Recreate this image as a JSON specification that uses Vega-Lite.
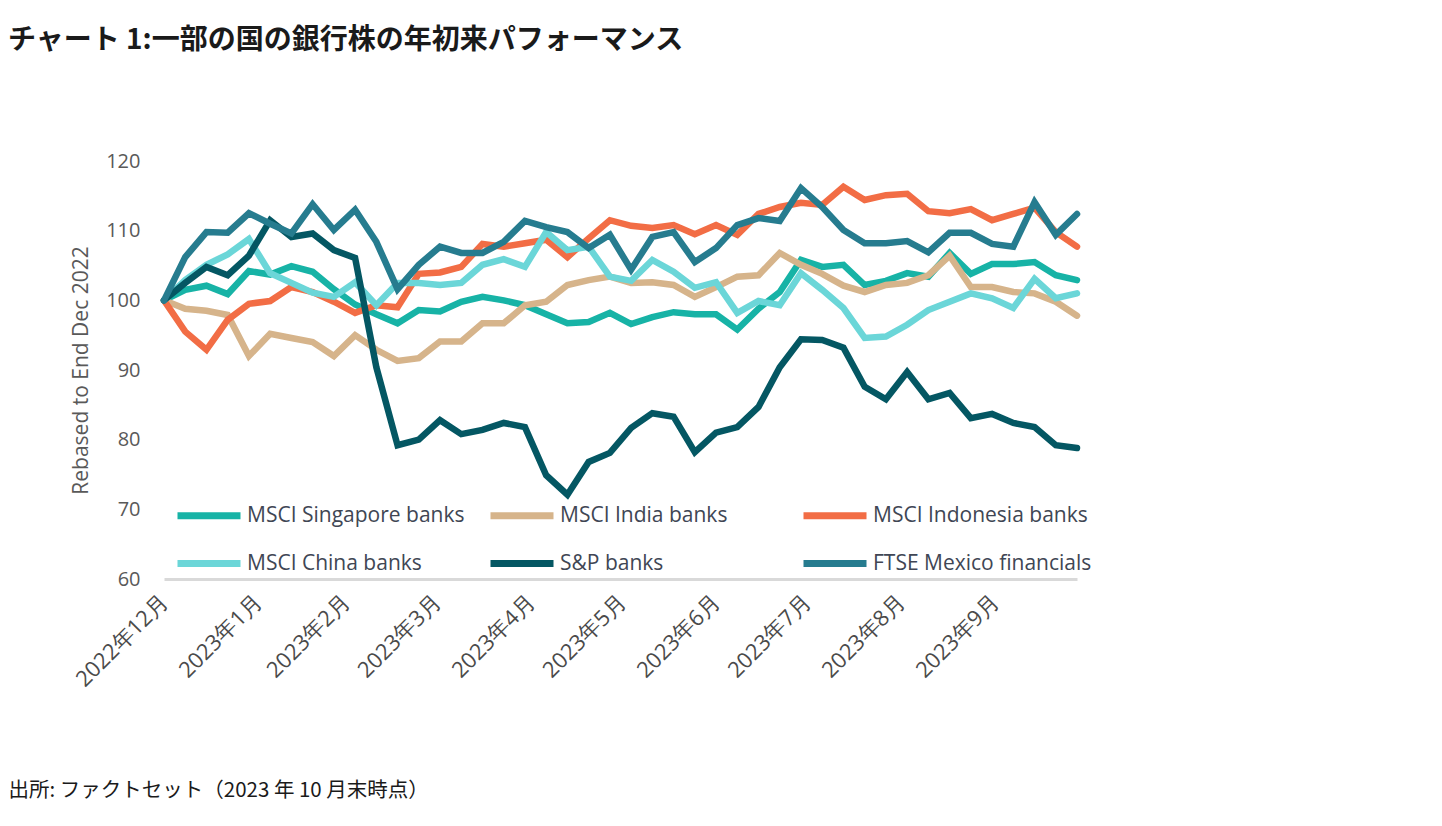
{
  "$schema": "https://vega.github.io/schema/vega-lite/v6.json",
  "autosize": "none",
  "width": 913,
  "height": 418,
  "padding": {"left": 164, "top": 161, "right": 365, "bottom": 247},
  "background": "white",
  "config": {
    "view": {"stroke": null},
    "font": "Open Sans",
    "legend": {"padding": 0}
  },
  "title": {
    "text": "チャート 1:一部の国の銀行株の年初来パフォーマンス",
    "anchor": "start",
    "frame": "group",
    "dx": -156,
    "offset": 96,
    "font": "Noto Sans CJK JP",
    "fontSize": 28,
    "fontWeight": "bold",
    "color": "#1a1a1a"
  },
  "data": {
    "values": [
      {"date": "2022-12-30", "series": "MSCI Singapore banks", "value": 100},
      {"date": "2023-01-06", "series": "MSCI Singapore banks", "value": 101.5},
      {"date": "2023-01-13", "series": "MSCI Singapore banks", "value": 102.1},
      {"date": "2023-01-20", "series": "MSCI Singapore banks", "value": 100.9},
      {"date": "2023-01-27", "series": "MSCI Singapore banks", "value": 104.2},
      {"date": "2023-02-03", "series": "MSCI Singapore banks", "value": 103.7},
      {"date": "2023-02-10", "series": "MSCI Singapore banks", "value": 104.9},
      {"date": "2023-02-17", "series": "MSCI Singapore banks", "value": 104.1},
      {"date": "2023-02-24", "series": "MSCI Singapore banks", "value": 101.6},
      {"date": "2023-03-03", "series": "MSCI Singapore banks", "value": 99.4},
      {"date": "2023-03-10", "series": "MSCI Singapore banks", "value": 98.0},
      {"date": "2023-03-17", "series": "MSCI Singapore banks", "value": 96.7},
      {"date": "2023-03-24", "series": "MSCI Singapore banks", "value": 98.6},
      {"date": "2023-03-31", "series": "MSCI Singapore banks", "value": 98.4},
      {"date": "2023-04-07", "series": "MSCI Singapore banks", "value": 99.8},
      {"date": "2023-04-14", "series": "MSCI Singapore banks", "value": 100.5},
      {"date": "2023-04-21", "series": "MSCI Singapore banks", "value": 100.0},
      {"date": "2023-04-28", "series": "MSCI Singapore banks", "value": 99.3},
      {"date": "2023-05-05", "series": "MSCI Singapore banks", "value": 98.0},
      {"date": "2023-05-12", "series": "MSCI Singapore banks", "value": 96.7},
      {"date": "2023-05-19", "series": "MSCI Singapore banks", "value": 96.9},
      {"date": "2023-05-26", "series": "MSCI Singapore banks", "value": 98.2},
      {"date": "2023-06-02", "series": "MSCI Singapore banks", "value": 96.6},
      {"date": "2023-06-09", "series": "MSCI Singapore banks", "value": 97.6},
      {"date": "2023-06-16", "series": "MSCI Singapore banks", "value": 98.3},
      {"date": "2023-06-23", "series": "MSCI Singapore banks", "value": 98.0},
      {"date": "2023-06-30", "series": "MSCI Singapore banks", "value": 98.0},
      {"date": "2023-07-07", "series": "MSCI Singapore banks", "value": 95.8},
      {"date": "2023-07-14", "series": "MSCI Singapore banks", "value": 98.8},
      {"date": "2023-07-21", "series": "MSCI Singapore banks", "value": 101.2},
      {"date": "2023-07-28", "series": "MSCI Singapore banks", "value": 105.8},
      {"date": "2023-08-04", "series": "MSCI Singapore banks", "value": 104.8},
      {"date": "2023-08-11", "series": "MSCI Singapore banks", "value": 105.1},
      {"date": "2023-08-18", "series": "MSCI Singapore banks", "value": 102.2},
      {"date": "2023-08-25", "series": "MSCI Singapore banks", "value": 102.8},
      {"date": "2023-09-01", "series": "MSCI Singapore banks", "value": 103.9},
      {"date": "2023-09-08", "series": "MSCI Singapore banks", "value": 103.4},
      {"date": "2023-09-15", "series": "MSCI Singapore banks", "value": 106.8},
      {"date": "2023-09-22", "series": "MSCI Singapore banks", "value": 103.8},
      {"date": "2023-09-29", "series": "MSCI Singapore banks", "value": 105.2},
      {"date": "2023-10-06", "series": "MSCI Singapore banks", "value": 105.2},
      {"date": "2023-10-13", "series": "MSCI Singapore banks", "value": 105.5},
      {"date": "2023-10-20", "series": "MSCI Singapore banks", "value": 103.6},
      {"date": "2023-10-27", "series": "MSCI Singapore banks", "value": 102.9},

      {"date": "2022-12-30", "series": "MSCI India banks", "value": 100},
      {"date": "2023-01-06", "series": "MSCI India banks", "value": 98.8},
      {"date": "2023-01-13", "series": "MSCI India banks", "value": 98.5},
      {"date": "2023-01-20", "series": "MSCI India banks", "value": 97.9},
      {"date": "2023-01-27", "series": "MSCI India banks", "value": 92.0},
      {"date": "2023-02-03", "series": "MSCI India banks", "value": 95.2},
      {"date": "2023-02-10", "series": "MSCI India banks", "value": 94.6},
      {"date": "2023-02-17", "series": "MSCI India banks", "value": 94.0},
      {"date": "2023-02-24", "series": "MSCI India banks", "value": 92.0},
      {"date": "2023-03-03", "series": "MSCI India banks", "value": 95.0},
      {"date": "2023-03-10", "series": "MSCI India banks", "value": 92.9},
      {"date": "2023-03-17", "series": "MSCI India banks", "value": 91.3},
      {"date": "2023-03-24", "series": "MSCI India banks", "value": 91.7},
      {"date": "2023-03-31", "series": "MSCI India banks", "value": 94.1},
      {"date": "2023-04-07", "series": "MSCI India banks", "value": 94.1},
      {"date": "2023-04-14", "series": "MSCI India banks", "value": 96.7},
      {"date": "2023-04-21", "series": "MSCI India banks", "value": 96.7},
      {"date": "2023-04-28", "series": "MSCI India banks", "value": 99.3},
      {"date": "2023-05-05", "series": "MSCI India banks", "value": 99.8},
      {"date": "2023-05-12", "series": "MSCI India banks", "value": 102.2},
      {"date": "2023-05-19", "series": "MSCI India banks", "value": 102.9},
      {"date": "2023-05-26", "series": "MSCI India banks", "value": 103.4},
      {"date": "2023-06-02", "series": "MSCI India banks", "value": 102.5},
      {"date": "2023-06-09", "series": "MSCI India banks", "value": 102.6},
      {"date": "2023-06-16", "series": "MSCI India banks", "value": 102.2},
      {"date": "2023-06-23", "series": "MSCI India banks", "value": 100.5},
      {"date": "2023-06-30", "series": "MSCI India banks", "value": 101.9},
      {"date": "2023-07-07", "series": "MSCI India banks", "value": 103.4},
      {"date": "2023-07-14", "series": "MSCI India banks", "value": 103.6},
      {"date": "2023-07-21", "series": "MSCI India banks", "value": 106.8},
      {"date": "2023-07-28", "series": "MSCI India banks", "value": 105.1},
      {"date": "2023-08-04", "series": "MSCI India banks", "value": 103.8},
      {"date": "2023-08-11", "series": "MSCI India banks", "value": 102.1},
      {"date": "2023-08-18", "series": "MSCI India banks", "value": 101.2},
      {"date": "2023-08-25", "series": "MSCI India banks", "value": 102.2},
      {"date": "2023-09-01", "series": "MSCI India banks", "value": 102.5},
      {"date": "2023-09-08", "series": "MSCI India banks", "value": 103.6},
      {"date": "2023-09-15", "series": "MSCI India banks", "value": 106.4},
      {"date": "2023-09-22", "series": "MSCI India banks", "value": 101.9},
      {"date": "2023-09-29", "series": "MSCI India banks", "value": 101.9},
      {"date": "2023-10-06", "series": "MSCI India banks", "value": 101.2},
      {"date": "2023-10-13", "series": "MSCI India banks", "value": 101.0},
      {"date": "2023-10-20", "series": "MSCI India banks", "value": 99.8},
      {"date": "2023-10-27", "series": "MSCI India banks", "value": 97.8},

      {"date": "2022-12-30", "series": "MSCI Indonesia banks", "value": 100},
      {"date": "2023-01-06", "series": "MSCI Indonesia banks", "value": 95.5},
      {"date": "2023-01-13", "series": "MSCI Indonesia banks", "value": 92.9},
      {"date": "2023-01-20", "series": "MSCI Indonesia banks", "value": 97.2},
      {"date": "2023-01-27", "series": "MSCI Indonesia banks", "value": 99.5},
      {"date": "2023-02-03", "series": "MSCI Indonesia banks", "value": 99.9},
      {"date": "2023-02-10", "series": "MSCI Indonesia banks", "value": 101.9},
      {"date": "2023-02-17", "series": "MSCI Indonesia banks", "value": 101.2},
      {"date": "2023-02-24", "series": "MSCI Indonesia banks", "value": 99.8},
      {"date": "2023-03-03", "series": "MSCI Indonesia banks", "value": 98.2},
      {"date": "2023-03-10", "series": "MSCI Indonesia banks", "value": 99.3},
      {"date": "2023-03-17", "series": "MSCI Indonesia banks", "value": 99.0},
      {"date": "2023-03-24", "series": "MSCI Indonesia banks", "value": 103.8},
      {"date": "2023-03-31", "series": "MSCI Indonesia banks", "value": 104.0},
      {"date": "2023-04-07", "series": "MSCI Indonesia banks", "value": 104.8},
      {"date": "2023-04-14", "series": "MSCI Indonesia banks", "value": 108.1},
      {"date": "2023-04-21", "series": "MSCI Indonesia banks", "value": 107.7},
      {"date": "2023-04-28", "series": "MSCI Indonesia banks", "value": 108.2},
      {"date": "2023-05-05", "series": "MSCI Indonesia banks", "value": 108.7},
      {"date": "2023-05-12", "series": "MSCI Indonesia banks", "value": 106.2},
      {"date": "2023-05-19", "series": "MSCI Indonesia banks", "value": 108.9},
      {"date": "2023-05-26", "series": "MSCI Indonesia banks", "value": 111.5},
      {"date": "2023-06-02", "series": "MSCI Indonesia banks", "value": 110.7},
      {"date": "2023-06-09", "series": "MSCI Indonesia banks", "value": 110.4},
      {"date": "2023-06-16", "series": "MSCI Indonesia banks", "value": 110.8},
      {"date": "2023-06-23", "series": "MSCI Indonesia banks", "value": 109.5},
      {"date": "2023-06-30", "series": "MSCI Indonesia banks", "value": 110.8},
      {"date": "2023-07-07", "series": "MSCI Indonesia banks", "value": 109.4},
      {"date": "2023-07-14", "series": "MSCI Indonesia banks", "value": 112.4},
      {"date": "2023-07-21", "series": "MSCI Indonesia banks", "value": 113.4},
      {"date": "2023-07-28", "series": "MSCI Indonesia banks", "value": 114.0},
      {"date": "2023-08-04", "series": "MSCI Indonesia banks", "value": 113.7},
      {"date": "2023-08-11", "series": "MSCI Indonesia banks", "value": 116.3},
      {"date": "2023-08-18", "series": "MSCI Indonesia banks", "value": 114.4},
      {"date": "2023-08-25", "series": "MSCI Indonesia banks", "value": 115.1},
      {"date": "2023-09-01", "series": "MSCI Indonesia banks", "value": 115.3},
      {"date": "2023-09-08", "series": "MSCI Indonesia banks", "value": 112.8},
      {"date": "2023-09-15", "series": "MSCI Indonesia banks", "value": 112.5},
      {"date": "2023-09-22", "series": "MSCI Indonesia banks", "value": 113.1},
      {"date": "2023-09-29", "series": "MSCI Indonesia banks", "value": 111.5},
      {"date": "2023-10-06", "series": "MSCI Indonesia banks", "value": 112.4},
      {"date": "2023-10-13", "series": "MSCI Indonesia banks", "value": 113.3},
      {"date": "2023-10-20", "series": "MSCI Indonesia banks", "value": 109.8},
      {"date": "2023-10-27", "series": "MSCI Indonesia banks", "value": 107.7},

      {"date": "2022-12-30", "series": "MSCI China banks", "value": 100},
      {"date": "2023-01-06", "series": "MSCI China banks", "value": 102.9},
      {"date": "2023-01-13", "series": "MSCI China banks", "value": 105.1},
      {"date": "2023-01-20", "series": "MSCI China banks", "value": 106.6},
      {"date": "2023-01-27", "series": "MSCI China banks", "value": 108.8},
      {"date": "2023-02-03", "series": "MSCI China banks", "value": 103.9},
      {"date": "2023-02-10", "series": "MSCI China banks", "value": 102.5},
      {"date": "2023-02-17", "series": "MSCI China banks", "value": 101.1},
      {"date": "2023-02-24", "series": "MSCI China banks", "value": 100.5},
      {"date": "2023-03-03", "series": "MSCI China banks", "value": 102.6},
      {"date": "2023-03-10", "series": "MSCI China banks", "value": 99.3},
      {"date": "2023-03-17", "series": "MSCI China banks", "value": 102.5},
      {"date": "2023-03-24", "series": "MSCI China banks", "value": 102.5},
      {"date": "2023-03-31", "series": "MSCI China banks", "value": 102.2},
      {"date": "2023-04-07", "series": "MSCI China banks", "value": 102.5},
      {"date": "2023-04-14", "series": "MSCI China banks", "value": 105.1},
      {"date": "2023-04-21", "series": "MSCI China banks", "value": 105.9},
      {"date": "2023-04-28", "series": "MSCI China banks", "value": 104.8},
      {"date": "2023-05-05", "series": "MSCI China banks", "value": 109.8},
      {"date": "2023-05-12", "series": "MSCI China banks", "value": 107.2},
      {"date": "2023-05-19", "series": "MSCI China banks", "value": 107.7},
      {"date": "2023-05-26", "series": "MSCI China banks", "value": 103.4},
      {"date": "2023-06-02", "series": "MSCI China banks", "value": 102.8},
      {"date": "2023-06-09", "series": "MSCI China banks", "value": 105.8},
      {"date": "2023-06-16", "series": "MSCI China banks", "value": 104.1},
      {"date": "2023-06-23", "series": "MSCI China banks", "value": 101.8},
      {"date": "2023-06-30", "series": "MSCI China banks", "value": 102.6},
      {"date": "2023-07-07", "series": "MSCI China banks", "value": 98.2},
      {"date": "2023-07-14", "series": "MSCI China banks", "value": 99.9},
      {"date": "2023-07-21", "series": "MSCI China banks", "value": 99.3},
      {"date": "2023-07-28", "series": "MSCI China banks", "value": 103.9},
      {"date": "2023-08-04", "series": "MSCI China banks", "value": 101.5},
      {"date": "2023-08-11", "series": "MSCI China banks", "value": 98.9},
      {"date": "2023-08-18", "series": "MSCI China banks", "value": 94.6},
      {"date": "2023-08-25", "series": "MSCI China banks", "value": 94.8},
      {"date": "2023-09-01", "series": "MSCI China banks", "value": 96.5},
      {"date": "2023-09-08", "series": "MSCI China banks", "value": 98.6},
      {"date": "2023-09-15", "series": "MSCI China banks", "value": 99.8},
      {"date": "2023-09-22", "series": "MSCI China banks", "value": 101.0},
      {"date": "2023-09-29", "series": "MSCI China banks", "value": 100.3},
      {"date": "2023-10-06", "series": "MSCI China banks", "value": 98.9},
      {"date": "2023-10-13", "series": "MSCI China banks", "value": 103.1},
      {"date": "2023-10-20", "series": "MSCI China banks", "value": 100.3},
      {"date": "2023-10-27", "series": "MSCI China banks", "value": 101.0},

      {"date": "2022-12-30", "series": "S&P banks", "value": 100},
      {"date": "2023-01-06", "series": "S&P banks", "value": 102.5},
      {"date": "2023-01-13", "series": "S&P banks", "value": 104.8},
      {"date": "2023-01-20", "series": "S&P banks", "value": 103.6},
      {"date": "2023-01-27", "series": "S&P banks", "value": 106.4},
      {"date": "2023-02-03", "series": "S&P banks", "value": 111.5},
      {"date": "2023-02-10", "series": "S&P banks", "value": 109.1},
      {"date": "2023-02-17", "series": "S&P banks", "value": 109.6},
      {"date": "2023-02-24", "series": "S&P banks", "value": 107.2},
      {"date": "2023-03-03", "series": "S&P banks", "value": 106.1},
      {"date": "2023-03-10", "series": "S&P banks", "value": 90.4},
      {"date": "2023-03-17", "series": "S&P banks", "value": 79.2},
      {"date": "2023-03-24", "series": "S&P banks", "value": 80.0},
      {"date": "2023-03-31", "series": "S&P banks", "value": 82.8},
      {"date": "2023-04-07", "series": "S&P banks", "value": 80.8},
      {"date": "2023-04-14", "series": "S&P banks", "value": 81.4},
      {"date": "2023-04-21", "series": "S&P banks", "value": 82.4},
      {"date": "2023-04-28", "series": "S&P banks", "value": 81.8},
      {"date": "2023-05-05", "series": "S&P banks", "value": 74.9},
      {"date": "2023-05-12", "series": "S&P banks", "value": 72.1},
      {"date": "2023-05-19", "series": "S&P banks", "value": 76.8},
      {"date": "2023-05-26", "series": "S&P banks", "value": 78.1},
      {"date": "2023-06-02", "series": "S&P banks", "value": 81.7},
      {"date": "2023-06-09", "series": "S&P banks", "value": 83.8},
      {"date": "2023-06-16", "series": "S&P banks", "value": 83.3},
      {"date": "2023-06-23", "series": "S&P banks", "value": 78.2},
      {"date": "2023-06-30", "series": "S&P banks", "value": 81.0},
      {"date": "2023-07-07", "series": "S&P banks", "value": 81.8},
      {"date": "2023-07-14", "series": "S&P banks", "value": 84.7},
      {"date": "2023-07-21", "series": "S&P banks", "value": 90.4},
      {"date": "2023-07-28", "series": "S&P banks", "value": 94.4},
      {"date": "2023-08-04", "series": "S&P banks", "value": 94.3},
      {"date": "2023-08-11", "series": "S&P banks", "value": 93.2},
      {"date": "2023-08-18", "series": "S&P banks", "value": 87.6},
      {"date": "2023-08-25", "series": "S&P banks", "value": 85.8},
      {"date": "2023-09-01", "series": "S&P banks", "value": 89.7},
      {"date": "2023-09-08", "series": "S&P banks", "value": 85.8},
      {"date": "2023-09-15", "series": "S&P banks", "value": 86.7},
      {"date": "2023-09-22", "series": "S&P banks", "value": 83.1},
      {"date": "2023-09-29", "series": "S&P banks", "value": 83.7},
      {"date": "2023-10-06", "series": "S&P banks", "value": 82.4},
      {"date": "2023-10-13", "series": "S&P banks", "value": 81.8},
      {"date": "2023-10-20", "series": "S&P banks", "value": 79.2},
      {"date": "2023-10-27", "series": "S&P banks", "value": 78.8},

      {"date": "2022-12-30", "series": "FTSE Mexico financials", "value": 100},
      {"date": "2023-01-06", "series": "FTSE Mexico financials", "value": 106.2},
      {"date": "2023-01-13", "series": "FTSE Mexico financials", "value": 109.8},
      {"date": "2023-01-20", "series": "FTSE Mexico financials", "value": 109.7},
      {"date": "2023-01-27", "series": "FTSE Mexico financials", "value": 112.5},
      {"date": "2023-02-03", "series": "FTSE Mexico financials", "value": 111.0},
      {"date": "2023-02-10", "series": "FTSE Mexico financials", "value": 109.6},
      {"date": "2023-02-17", "series": "FTSE Mexico financials", "value": 113.8},
      {"date": "2023-02-24", "series": "FTSE Mexico financials", "value": 110.1},
      {"date": "2023-03-03", "series": "FTSE Mexico financials", "value": 113.0},
      {"date": "2023-03-10", "series": "FTSE Mexico financials", "value": 108.4},
      {"date": "2023-03-17", "series": "FTSE Mexico financials", "value": 101.6},
      {"date": "2023-03-24", "series": "FTSE Mexico financials", "value": 105.1},
      {"date": "2023-03-31", "series": "FTSE Mexico financials", "value": 107.7},
      {"date": "2023-04-07", "series": "FTSE Mexico financials", "value": 106.8},
      {"date": "2023-04-14", "series": "FTSE Mexico financials", "value": 106.8},
      {"date": "2023-04-21", "series": "FTSE Mexico financials", "value": 108.4},
      {"date": "2023-04-28", "series": "FTSE Mexico financials", "value": 111.4},
      {"date": "2023-05-05", "series": "FTSE Mexico financials", "value": 110.5},
      {"date": "2023-05-12", "series": "FTSE Mexico financials", "value": 109.8},
      {"date": "2023-05-19", "series": "FTSE Mexico financials", "value": 107.5},
      {"date": "2023-05-26", "series": "FTSE Mexico financials", "value": 109.4},
      {"date": "2023-06-02", "series": "FTSE Mexico financials", "value": 104.4},
      {"date": "2023-06-09", "series": "FTSE Mexico financials", "value": 109.1},
      {"date": "2023-06-16", "series": "FTSE Mexico financials", "value": 109.8},
      {"date": "2023-06-23", "series": "FTSE Mexico financials", "value": 105.5},
      {"date": "2023-06-30", "series": "FTSE Mexico financials", "value": 107.5},
      {"date": "2023-07-07", "series": "FTSE Mexico financials", "value": 110.8},
      {"date": "2023-07-14", "series": "FTSE Mexico financials", "value": 111.8},
      {"date": "2023-07-21", "series": "FTSE Mexico financials", "value": 111.4},
      {"date": "2023-07-28", "series": "FTSE Mexico financials", "value": 116.1},
      {"date": "2023-08-04", "series": "FTSE Mexico financials", "value": 113.4},
      {"date": "2023-08-11", "series": "FTSE Mexico financials", "value": 110.1},
      {"date": "2023-08-18", "series": "FTSE Mexico financials", "value": 108.2},
      {"date": "2023-08-25", "series": "FTSE Mexico financials", "value": 108.2},
      {"date": "2023-09-01", "series": "FTSE Mexico financials", "value": 108.5},
      {"date": "2023-09-08", "series": "FTSE Mexico financials", "value": 106.9},
      {"date": "2023-09-15", "series": "FTSE Mexico financials", "value": 109.7},
      {"date": "2023-09-22", "series": "FTSE Mexico financials", "value": 109.7},
      {"date": "2023-09-29", "series": "FTSE Mexico financials", "value": 108.1},
      {"date": "2023-10-06", "series": "FTSE Mexico financials", "value": 107.7},
      {"date": "2023-10-13", "series": "FTSE Mexico financials", "value": 114.1},
      {"date": "2023-10-20", "series": "FTSE Mexico financials", "value": 109.4},
      {"date": "2023-10-27", "series": "FTSE Mexico financials", "value": 112.4}
    ]
  },
  "mark": {"type": "line", "strokeWidth": 6.5, "strokeCap": "round", "strokeJoin": "miter"},
  "encoding": {
    "x": {
      "field": "date",
      "type": "temporal",
      "scale": {
        "type": "utc",
        "nice": false,
        "domain": [
          {"year": 2022, "month": 12, "date": 30, "utc": true},
          {"year": 2023, "month": 10, "date": 27, "utc": true}
        ]
      },
      "axis": {
        "values": [
          {"year": 2022, "month": 12, "date": 30, "utc": true},
          {"year": 2023, "month": 1, "date": 30, "utc": true},
          {"year": 2023, "month": 2, "date": 28, "utc": true},
          {"year": 2023, "month": 3, "date": 30, "utc": true},
          {"year": 2023, "month": 4, "date": 30, "utc": true},
          {"year": 2023, "month": 5, "date": 30, "utc": true},
          {"year": 2023, "month": 6, "date": 30, "utc": true},
          {"year": 2023, "month": 7, "date": 30, "utc": true},
          {"year": 2023, "month": 8, "date": 30, "utc": true},
          {"year": 2023, "month": 9, "date": 30, "utc": true}
        ],
        "labelExpr": "utcFormat(datum.value, '%Y年%-m月')",
        "labelAngle": -45,
        "labelAlign": "right",
        "labelBaseline": "middle",
        "labelPadding": 19,
        "labelFont": "Open Sans",
        "labelFontSize": 22,
        "labelColor": "#4a4a4a",
        "labelOverlap": false,
        "labelFlush": false,
        "ticks": false,
        "tickSize": 0,
        "grid": false,
        "domain": true,
        "domainColor": "#d9d9d9",
        "domainWidth": 3,
        "title": "出所: ファクトセット（2023 年 10 月末時点）",
        "titleFont": "Noto Sans CJK JP",
        "titleFontSize": 20.5,
        "titleFontWeight": "normal",
        "titleColor": "#1a1a1a",
        "titleAnchor": "start",
        "titleAlign": "left",
        "titleBaseline": "middle",
        "titleX": -156,
        "titleY": 211
      }
    },
    "y": {
      "field": "value",
      "type": "quantitative",
      "scale": {"domain": [60, 120], "nice": false, "zero": false},
      "axis": {
        "values": [60, 70, 80, 90, 100, 110, 120],
        "title": "Rebased to End Dec 2022",
        "titleFont": "Open Sans",
        "titleFontSize": 21,
        "titleFontWeight": "normal",
        "titleColor": "#595959",
        "titlePadding": 14,
        "labelFont": "Open Sans",
        "labelFontSize": 20,
        "labelColor": "#595959",
        "labelPadding": 24,
        "ticks": false,
        "tickSize": 0,
        "domain": false,
        "grid": false
      }
    },
    "color": {
      "field": "series",
      "type": "nominal",
      "sort": null,
      "scale": {
        "domain": ["MSCI Singapore banks", "MSCI India banks", "MSCI Indonesia banks", "MSCI China banks", "S&P banks", "FTSE Mexico financials"],
        "range": ["#17b3a6", "#d6b48b", "#f26d45", "#6bd6d8", "#045763", "#267c8f"]
      },
      "legend": {
        "title": null,
        "orient": "none",
        "legendX": 10,
        "legendY": 343,
        "direction": "horizontal",
        "columns": 3,
        "gridAlign": "all",
        "columnPadding": 10,
        "rowPadding": 19,
        "symbolType": "M-1,0H6.875",
        "symbolSize": 256,
        "symbolStrokeWidth": 7,
        "symbolOffset": 0,
        "labelOffset": 50,
        "labelFont": "Open Sans",
        "labelFontSize": 21,
        "labelColor": "#404654",
        "labelLimit": 0,
        "padding": 0
      }
    }
  }
}
